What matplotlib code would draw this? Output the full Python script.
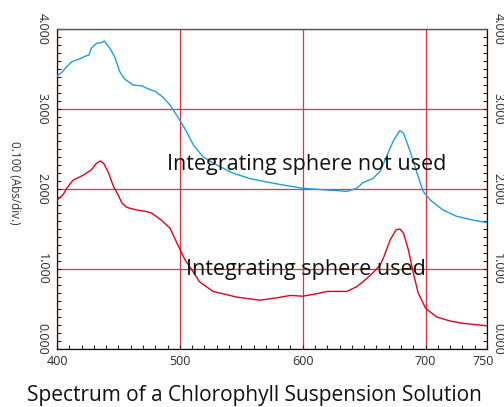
import matplotlib
matplotlib.use('Agg')
import matplotlib.pyplot as plt
import matplotlib.transforms as mtransforms
from matplotlib.ticker import MultipleLocator

plt.rcParams['font.family'] = ['Open Sans', 'DejaVu Sans']

# blue: integrating sphere not used
wl_blue = [400, 404, 408, 412, 419, 423, 426, 428, 432, 436, 438.5, 443, 447, 451, 455,
           462, 469, 473, 480, 486, 492, 500, 506, 511, 519, 530, 543, 557, 570, 584,
           600, 617, 628, 636, 644, 649, 657, 663, 668, 674, 679, 682, 687, 693, 698,
           704, 714, 725, 739, 750]
abs_blue = [3.41, 3.46, 3.53, 3.59, 3.63, 3.66, 3.675, 3.76, 3.82, 3.83, 3.85, 3.76, 3.65, 3.47, 3.375,
            3.30, 3.29, 3.26, 3.22, 3.15, 3.05, 2.86, 2.70, 2.55, 2.40, 2.30, 2.20, 2.13, 2.09, 2.05,
            2.01, 1.99, 1.98, 1.97, 2.01, 2.08, 2.13, 2.22, 2.40, 2.61, 2.73, 2.70, 2.49, 2.20, 1.97,
            1.86, 1.74, 1.66, 1.61, 1.58]

# red: integrating sphere used
wl_red = [400, 405, 408, 413, 421, 428, 432, 435.5, 438, 442, 446, 449, 453, 457, 464,
          472, 477, 485, 492, 499, 504, 508, 516, 527, 546, 565, 579, 590, 600, 611,
          620, 630, 636, 644, 649, 657, 663, 666, 671, 676, 679, 682, 686, 690, 694,
          700, 709, 720, 731, 750]
abs_red = [1.86, 1.93, 2.01, 2.11, 2.17, 2.24, 2.32, 2.35, 2.32, 2.20, 2.03, 1.95, 1.82, 1.77, 1.74,
           1.72, 1.70, 1.61, 1.51, 1.28, 1.12, 1.03, 0.84, 0.72, 0.65, 0.61, 0.64, 0.67, 0.66, 0.69,
           0.72, 0.72, 0.72, 0.78, 0.84, 0.95, 1.05, 1.15, 1.36, 1.49, 1.50, 1.45, 1.24, 0.95, 0.70,
           0.51, 0.40, 0.35, 0.32, 0.29]

x_ticks = [400, 500, 600, 700, 750]
y_ticks = [0, 1, 2, 3, 4]
y_labels = ['0.000', '1.000', '2.000', '3.000', '4.000']

fig = plt.figure(figsize=(5.04, 4.07), dpi=100)
ax = fig.add_axes([0.1131, 0.1425, 0.8532, 0.7862])

ax.plot(wl_blue, abs_blue, color='#1a9fe0', lw=1.0, zorder=3)
ax.plot(wl_red, abs_red, color='#e60020', lw=1.0, zorder=3)

ax.set_xlim(400, 750)
ax.set_ylim(0, 4)
ax.set_xticks(x_ticks)
ax.set_xticklabels([str(v) for v in x_ticks])
ax.set_yticks(y_ticks)
ax.set_yticklabels(y_labels)
ax.xaxis.set_minor_locator(MultipleLocator(10))
ax.yaxis.set_minor_locator(MultipleLocator(0.1))

ax.grid(True, which='major', color='#e2333d', lw=0.9)

ax.tick_params(which='both', direction='in', length=3, width=0.8, color='#222222',
               top=False, right=True, labelright=True, labelsize=9, labelcolor='#2a2a2a')
ax.tick_params(axis='y', which='major', pad=6)
ax.tick_params(axis='x', which='major', pad=4)

for side in ['left', 'bottom', 'right']:
    ax.spines[side].set_color('#111111')
    ax.spines[side].set_linewidth(0.9)
ax.spines['top'].set_color('#555555')
ax.spines['top'].set_linewidth(1.0)

# rotate y labels, pull right-hand labels in, lift the 0.000 labels off the corner
left_in = mtransforms.ScaledTranslation(-4 / 100, 0, fig.dpi_scale_trans)
lift = mtransforms.ScaledTranslation(0, 10 / 100, fig.dpi_scale_trans)
for i, tick in enumerate(ax.yaxis.get_major_ticks()):
    tick.label1.set_rotation(-90)
    tick.label2.set_rotation(-90)
    tick.label1.set_va('center')
    tick.label2.set_va('center')
    tick.label2.set_transform(tick.label2.get_transform() + left_in)
    if i == 0:
        tick.label1.set_transform(tick.label1.get_transform() + lift)
        tick.label2.set_transform(tick.label2.get_transform() + lift)

last_x = ax.xaxis.get_major_ticks()[-1]
last_x.label1.set_transform(last_x.label1.get_transform() + left_in)

ax.text(603, 2.31, 'Integrating sphere not used', ha='center', va='center',
        fontsize=15.5, color='#111111', zorder=4)
ax.text(603, 0.99, 'Integrating sphere used', ha='center', va='center',
        fontsize=15.5, color='#111111', zorder=4)

fig.text(0.028, 0.55, '0.100 (Abs/div.)', rotation=-90, ha='center', va='center',
         fontsize=8.5, color='#333333')

fig.text(0.505, 0.0155, 'Spectrum of a Chlorophyll Suspension Solution', ha='center',
         va='baseline', fontsize=15, color='#111111')

fig.savefig('out.png', dpi=100)
